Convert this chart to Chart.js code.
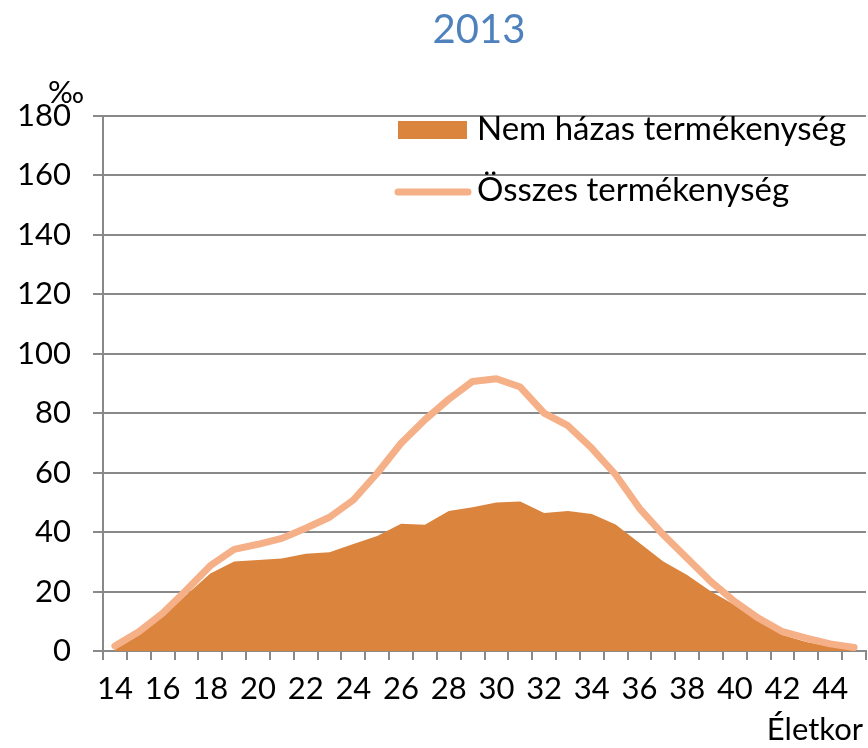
<!DOCTYPE html>
<html>
<head>
<meta charset="utf-8">
<script src="https://cdn.jsdelivr.net/npm/chart.js@4"></script>
<style>
  html, body { margin: 0; padding: 0; background: #fff; }
  #wrap { width: 868px; height: 748px; }
</style>
</head>
<body>
<div id="wrap"><canvas id="grafico"></canvas></div>
<script>
// életkor (14-45 év)
const eletkor = [14,15,16,17,18,19,20,21,22,23,24,25,26,27,28,29,30,31,32,33,34,35,36,37,38,39,40,41,42,43,44,45];
// ezrelék
const nemHazas = [1.0,5.4,11.6,18.9,26.1,30.1,30.6,31.1,32.7,33.2,36.0,38.7,42.8,42.5,47.1,48.4,50.0,50.3,46.4,47.1,46.1,42.6,36.3,30.1,25.6,20.0,15.5,9.9,5.4,3.0,1.5,0.8];
const osszes = [1.7,6.5,12.7,20.5,28.7,34.2,35.9,37.9,41.3,45.0,50.8,59.8,69.9,77.8,84.7,90.7,91.6,88.8,80.0,75.8,68.2,59.3,48.0,39.1,31.2,23.3,16.6,11.0,6.5,4.3,2.4,1.2];
const xFeliratok = [14,16,18,20,22,24,26,28,30,32,34,36,38,40,42,44];
const yMin = 0, yMax = 180, yLepes = 20;

const cim = '2013';
const nevek = ['Nem házas termékenység', 'Összes termékenység'];
const szinTerulet = '#db843e';
const szinVonal = '#f5b088';
const szurke = '#898989';
const betu = 'Lato, "Noto Sans", "DejaVu Sans", sans-serif';

const feliratok = {
  id: 'feliratok',
  afterDraw(chart) {
    const ctx = chart.ctx;
    ctx.save();
    // cím
    ctx.fillStyle = '#4f81bd';
    ctx.font = '40px ' + betu;
    ctx.textAlign = 'center';
    ctx.textBaseline = 'alphabetic';
    ctx.fillText(cim, 479, 43);
    // mértékegység és tengelycím
    ctx.fillStyle = '#000';
    ctx.font = '31px ' + betu;
    ctx.fillText('‰', 66, 103);
    ctx.textAlign = 'right';
    ctx.fillText('Életkor', 863, 740);
    // jelmagyarázat
    ctx.textAlign = 'left';
    ctx.fillStyle = szinTerulet;
    ctx.fillRect(398, 121, 69, 18);
    ctx.strokeStyle = szinVonal;
    ctx.lineWidth = 7;
    ctx.lineCap = 'round';
    ctx.beginPath();
    ctx.moveTo(398, 192);
    ctx.lineTo(468, 192);
    ctx.stroke();
    ctx.fillStyle = '#000';
    ctx.font = '33px ' + betu;
    ctx.fillText(nevek[0], 477, 140);
    ctx.fillText(nevek[1], 477, 201);
    ctx.restore();
  }
};

function init() {
  const grafico = document.getElementById('grafico');
  new Chart(grafico, {
    type: 'line',
    data: {
      labels: eletkor,
      datasets: [
        {
          label: nevek[1],
          data: osszes,
          borderColor: szinVonal,
          borderWidth: 7,
          borderCapStyle: 'round',
          borderJoinStyle: 'round',
          pointRadius: 0,
          fill: false,
          tension: 0,
          order: 0
        },
        {
          label: nevek[0],
          data: nemHazas,
          borderWidth: 0,
          borderColor: szinTerulet,
          backgroundColor: szinTerulet,
          pointRadius: 0,
          fill: 'origin',
          tension: 0,
          order: 1
        }
      ]
    },
    options: {
      responsive: true,
      maintainAspectRatio: false,
      animation: false,
      layout: { padding: { top: 116, right: 2, left: 0, bottom: 0 } },
      plugins: {
        legend: { display: false },
        title: { display: false },
        tooltip: { enabled: false }
      },
      scales: {
        x: {
          offset: true,
          afterFit(scale) { scale.height = 97; },
          grid: {
            offset: true,
            drawOnChartArea: false,
            drawTicks: true,
            tickLength: 9,
            color: szurke,
            lineWidth: 2
          },
          border: { color: szurke, width: 2 },
          ticks: {
            autoSkip: false,
            maxRotation: 0,
            padding: 10,
            color: '#000',
            font: { family: betu, size: 31 },
            callback(value, index) {
              const l = eletkor[index];
              return xFeliratok.includes(l) ? String(l) : '';
            }
          }
        },
        y: {
          min: yMin,
          max: yMax,
          afterFit(scale) { scale.width = 103; },
          grid: {
            color: szurke,
            lineWidth: 2,
            tickLength: 10
          },
          border: { color: szurke, width: 2 },
          ticks: {
            stepSize: yLepes,
            padding: 22,
            color: '#000',
            font: { family: betu, size: 31 }
          }
        }
      }
    },
    plugins: [feliratok]
  });
}

init();
</script>
</body>
</html>
